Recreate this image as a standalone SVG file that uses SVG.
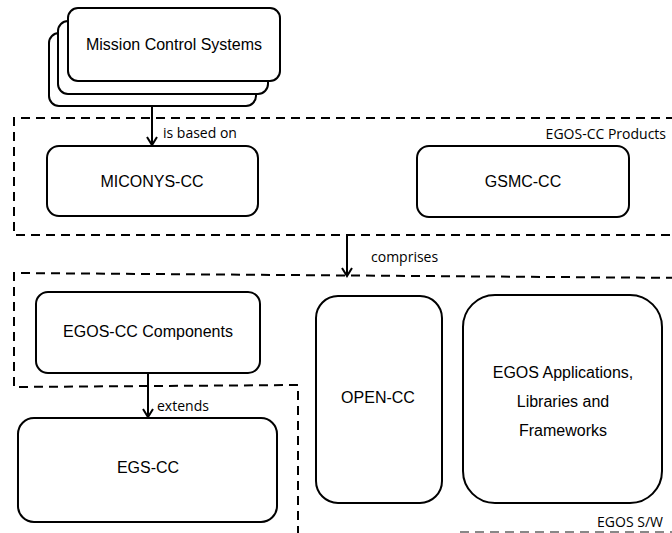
<svg xmlns="http://www.w3.org/2000/svg" width="672" height="533" viewBox="0 0 672 533">
<defs>
<style>
.node{fill:#fff;stroke:#000;stroke-width:2}
.dash{fill:none;stroke:#000;stroke-width:2;stroke-dasharray:9 6}
.lbl{font-family:"Liberation Sans",Arial,sans-serif;font-size:16px;fill:#000;text-anchor:middle;dominant-baseline:central}
.elbl{font-family:"Open Sans","Liberation Sans",sans-serif;font-size:14px;fill:#000}
.conn{fill:none;stroke:#000;stroke-width:2}
</style>
<marker id="arr" markerWidth="12" markerHeight="12" refX="10" refY="6" orient="auto" markerUnits="userSpaceOnUse">
<path d="M2,1 L10,6 L2,11" fill="none" stroke="#000" stroke-width="2"/>
</marker>
</defs>
<rect width="672" height="533" fill="#fff"/>

<g id="egos-cc-products">
<path class="dash" d="M690,118 L14,118 L14,235 L690,235"/>
<text class="elbl" x="666" y="139" text-anchor="end">EGOS-CC Products</text>
</g>

<g id="egos-sw">
<path class="dash" d="M690,278 L14,273 L14,387 L298,385 L298,540"/>
<path d="M460,532 L672,532" fill="none" stroke="#888" stroke-width="2" stroke-dasharray="9 6"/>
<text class="elbl" x="663" y="527" text-anchor="end">EGOS S/W</text>
</g>

<g id="mission-control-systems">
<rect class="node" x="49" y="33" width="207" height="73" rx="10"/>
<rect class="node" x="58" y="21" width="210" height="73" rx="10"/>
<rect class="node" x="68" y="8" width="212" height="73" rx="10"/>
<text class="lbl" x="174" y="44">Mission Control Systems</text>
</g>

<g id="miconys-cc">
<rect class="node" x="47" y="146" width="211" height="70" rx="12"/>
<text class="lbl" x="152" y="181">MICONYS-CC</text>
</g>

<g id="gsmc-cc">
<rect class="node" x="417" y="146" width="212" height="71" rx="12"/>
<text class="lbl" x="523" y="181">GSMC-CC</text>
</g>

<g id="egos-cc-components">
<rect class="node" x="36" y="292" width="224" height="81" rx="12"/>
<text class="lbl" x="148" y="331">EGOS-CC Components</text>
</g>

<g id="egs-cc">
<rect class="node" x="18" y="418" width="259" height="104" rx="16"/>
<text class="lbl" x="148" y="467">EGS-CC</text>
</g>

<g id="open-cc">
<rect class="node" x="316" y="296" width="126" height="207" rx="22"/>
<text class="lbl" x="378" y="397">OPEN-CC</text>
</g>

<g id="egos-apps">
<rect class="node" x="463" y="295" width="199" height="208" rx="32"/>
<text class="lbl" x="563" y="372">EGOS Applications,</text>
<text class="lbl" x="563" y="401">Libraries and</text>
<text class="lbl" x="563" y="430">Frameworks</text>
</g>

<g id="connectors">
<path class="conn" d="M152,106 L152,145" marker-end="url(#arr)"/>
<text class="elbl" x="163" y="138">is based on</text>
<path class="conn" d="M347,235 L347,276" marker-end="url(#arr)"/>
<text class="elbl" x="371" y="262">comprises</text>
<path class="conn" d="M148,373 L148,417" marker-end="url(#arr)"/>
<text class="elbl" x="157" y="411">extends</text>
</g>
</svg>
